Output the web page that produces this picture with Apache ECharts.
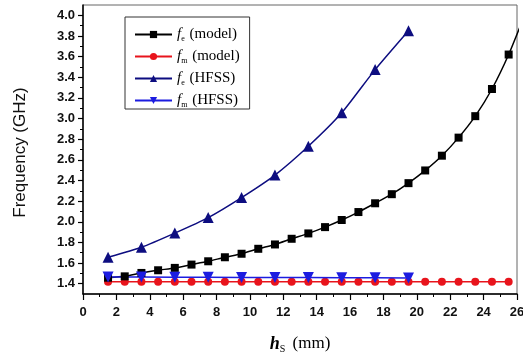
<!DOCTYPE html>
<html><head><meta charset="utf-8">
<script src="https://cdn.jsdelivr.net/npm/echarts@6/dist/echarts.min.js"></script>
<style>html,body{margin:0;padding:0;background:#fff}#c{width:523px;height:353px}</style>
</head><body><div id="c"></div>
<script>
// Data
const xModel = [1.5,2.5,3.5,4.5,5.5,6.5,7.5,8.5,9.5,10.5,11.5,12.5,13.5,14.5,15.5,16.5,17.5,18.5,19.5,20.5,21.5,22.5,23.5,24.5,25.5,26.5];
const feModel = [1.458,1.471,1.504,1.530,1.553,1.585,1.617,1.656,1.690,1.738,1.780,1.835,1.887,1.948,2.017,2.094,2.179,2.267,2.374,2.497,2.640,2.815,3.023,3.286,3.620,4.020];
const xModelFm = [1.5,2.5,3.5,4.5,5.5,6.5,7.5,8.5,9.5,10.5,11.5,12.5,13.5,14.5,15.5,16.5,17.5,18.5,19.5,20.5,21.5,22.5,23.5,24.5,25.5];
const fmModel = [1.418,1.418,1.418,1.418,1.418,1.418,1.418,1.418,1.418,1.418,1.418,1.418,1.418,1.418,1.418,1.418,1.418,1.418,1.418,1.418,1.418,1.418,1.418,1.418,1.418];
const xHfss = [1.5,3.5,5.5,7.5,9.5,11.5,13.5,15.5,17.5,19.5];
const feHfss = [1.656,1.753,1.890,2.040,2.234,2.452,2.731,3.055,3.474,3.851];
const fmHfss = [1.465,1.465,1.463,1.462,1.460,1.460,1.459,1.458,1.457,1.455];
const yTicks = [1.4,1.6,1.8,2.0,2.2,2.4,2.6,2.8,3.0,3.2,3.4,3.6,3.8,4.0];
const yMinorTicks = [1.5,1.7,1.9,2.1,2.3,2.5,2.7,2.9,3.1,3.3,3.5,3.7,3.9];
const seriesNames = ['fe_model','fm_model','fe_hfss','fm_hfss'];
const legendText = {
  fe_model: '{i|f}{s|e}{t| (model)}',
  fm_model: '{i|f}{s|m}{t| (model)}',
  fe_hfss: '{i|f}{s|e}{t| (HFSS)}',
  fm_hfss: '{i|f}{s|m}{t| (HFSS)}'
};

const pair = (xs, ys) => xs.map((x, i) => [x, ys[i]]);
const chart = echarts.init(document.getElementById('c'), null, {renderer: 'canvas'});
const serif = 'Liberation Serif, Times New Roman, serif';
const sans = 'Liberation Sans, Arial, sans-serif';
chart.setOption({
  animation: false,
  backgroundColor: '#fff',
  grid: {left: 83, right: 6, top: 5, bottom: 59, show: true, borderColor: '#666', borderWidth: 1,
    containLabel: false, outerBoundsMode: 'none'},
  legend: {
    orient: 'vertical', left: 125, top: 17, width: 126,
    padding: [10, 10, 0, 9], itemGap: 6,
    backgroundColor: '#fff', borderColor: '#333', borderWidth: 1,
    itemWidth: 37, itemHeight: 9,
    data: seriesNames,
    formatter: n => legendText[n],
    textStyle: {
      fontFamily: serif, fontSize: 15, color: '#000',
      rich: {
        i: {fontFamily: serif, fontStyle: 'italic', fontSize: 15, color: '#000'},
        s: {fontFamily: serif, fontSize: 8, color: '#000', padding: [9, 1, 0, 0]},
        t: {fontFamily: serif, fontSize: 15, color: '#000'}
      }
    }
  },
  xAxis: {
    type: 'value', min: 0, max: 26, interval: 2,
    name: '{h|h}{s|S}{t| (mm)}', nameLocation: 'middle', nameGap: 40,
    nameTextStyle: {
      rich: {
        h: {fontFamily: serif, fontStyle: 'italic', fontWeight: 'bold', fontSize: 18, color: '#000'},
        s: {fontFamily: serif, fontSize: 10, color: '#000', padding: [10, 3, 0, 0]},
        t: {fontFamily: serif, fontSize: 17, color: '#000'}
      }
    },
    axisLine: {lineStyle: {color: '#000', width: 1.5}},
    axisTick: {length: 6, lineStyle: {color: '#000', width: 1.2}},
    minorTick: {show: true, splitNumber: 2, length: 3, lineStyle: {color: '#000', width: 1}},
    axisLabel: {fontFamily: sans, fontWeight: 'bold', fontSize: 13, color: '#111', margin: 12},
    splitLine: {show: false}
  },
  yAxis: [{
    type: 'value', min: 1.3, max: 4.1,
    name: 'Frequency (GHz)', nameLocation: 'middle', nameGap: 54,
    nameTextStyle: {fontFamily: sans, fontSize: 17, color: '#111', padding: [0, 6, 0, 0]},
    axisLine: {lineStyle: {color: '#000', width: 1.5}},
    axisTick: {length: 5, customValues: yTicks, lineStyle: {color: '#000', width: 1.2}},
    axisLabel: {customValues: yTicks, fontFamily: sans, fontWeight: 'bold', fontSize: 13, color: '#111', margin: 8,
      formatter: v => v.toFixed(1)},
    splitLine: {show: false}
  }, {
    type: 'value', min: 1.3, max: 4.1, position: 'left',
    axisLine: {show: false},
    axisTick: {length: 3, customValues: yMinorTicks, lineStyle: {color: '#000', width: 1}},
    axisLabel: {show: false},
    splitLine: {show: false}
  }],
  series: [
    {name: 'fe_model', type: 'line', data: pair(xModel, feModel), symbol: 'rect', symbolSize: 8,
      smooth: 0.2, itemStyle: {color: '#000'}, lineStyle: {color: '#000', width: 1.5}, clip: true, z: 3},
    {name: 'fm_model', type: 'line', data: pair(xModelFm, fmModel), symbol: 'circle', symbolSize: 8,
      itemStyle: {color: '#e8141c'}, lineStyle: {color: '#e8141c', width: 1.5}, z: 2},
    {name: 'fe_hfss', type: 'line', data: pair(xHfss, feHfss), symbol: 'triangle', symbolSize: 11,
      smooth: 0.2, itemStyle: {color: '#0d0d80'}, lineStyle: {color: '#0d0d80', width: 1.5}, z: 4},
    {name: 'fm_hfss', type: 'line', data: pair(xHfss, fmHfss), symbol: 'triangle', symbolRotate: 180, symbolSize: 11,
      itemStyle: {color: '#1c1ce0'}, lineStyle: {color: '#1c1ce0', width: 1.5}, z: 3}
  ]
});
</script></body></html>
